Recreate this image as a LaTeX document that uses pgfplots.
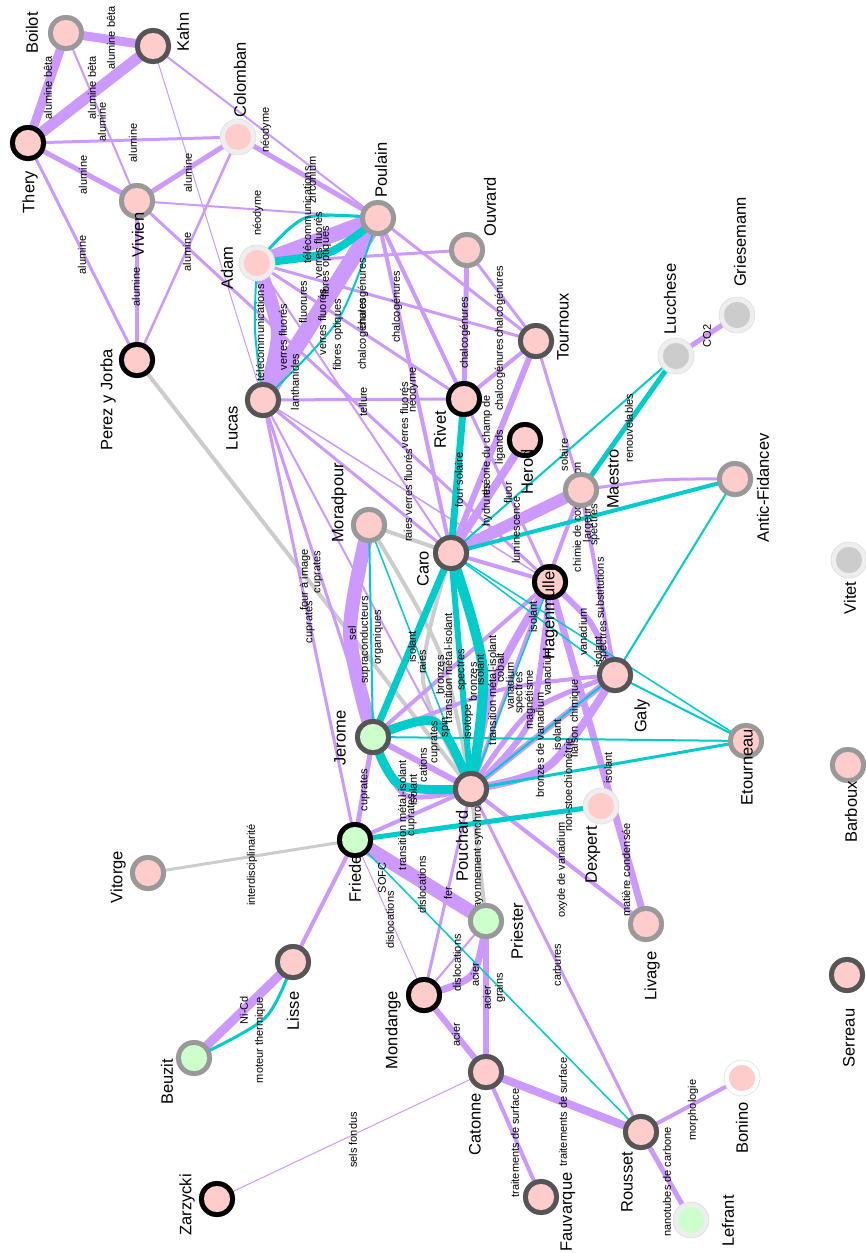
\documentclass[border=0pt]{standalone}
\usepackage{pgfplots}
\pgfplotsset{compat=1.18}
\usepackage{fontspec}
\setmainfont{Liberation Sans}
\definecolor{pu}{HTML}{CC99FF}
\definecolor{te}{HTML}{00CCCC}
\definecolor{gy}{HTML}{CCCCCC}
\definecolor{pk}{HTML}{FFCCCC}
\definecolor{gn}{HTML}{CCFFCC}
\definecolor{gf}{HTML}{CCCCCC}
\definecolor{rb}{HTML}{000000}
\definecolor{rd}{HTML}{555555}
\definecolor{rm}{HTML}{999999}
\definecolor{rl}{HTML}{EEEEEE}
\newcommand{\nfont}{\fontsize{16.5}{18}\selectfont}
\newcommand{\efont}{\fontsize{11}{12}\selectfont}
\newcommand{\E}[6]{\addplot[#1,line width=#2pt] coordinates {(#3,#4) (#5,#6)};}
\newcommand{\CE}[8]{\addplot[#1,line width=#2pt,smooth] coordinates {(#3,#4) (#5,#6) (#7,#8)};}
\newcommand{\EL}[3]{\node[rotate=90,font=\efont,inner sep=0pt] at (axis cs:#1,#2) {#3};}
\newcommand{\NN}[3]{\node[rotate=90,font=\nfont,inner sep=0pt] at (axis cs:#1,#2) {#3};}
\pgfplotsset{netaxis/.style={width=866pt,height=1253pt,scale only axis,xmin=0,xmax=866,ymin=0,ymax=1253,y dir=reverse,hide axis,clip=false,at={(0,0)},anchor=south west}}
\begin{document}
\begin{tikzpicture}
\begin{axis}[netaxis]
% ---------- gray edges
\E{gy}{4}{137}{360}{471}{789}
\E{gy}{4}{369}{525}{451}{553}
\CE{gy}{4}{369}{525}{440}{653}{471}{789}
\CE{gy}{4}{451}{553}{423}{680}{471}{789}
\E{gy}{3}{355}{840}{148}{873}
\E{gy}{4}{471}{789}{486}{921}
% ---------- purple edges
\E{pu}{9}{66}{33}{153}{46}
\E{pu}{9}{66}{33}{28}{143}
\E{pu}{11}{153}{46}{28}{143}
\E{pu}{2}{66}{33}{137}{201}
\E{pu}{1}{153}{46}{263}{400}
\E{pu}{2}{153}{46}{378}{218}
\E{pu}{3}{28}{143}{238}{137}
\E{pu}{5}{28}{143}{137}{201}
\E{pu}{3}{28}{143}{137}{360}
\E{pu}{5}{137}{201}{238}{137}
\E{pu}{4}{137}{201}{137}{360}
\E{pu}{2.5}{238}{137}{137}{360}
\E{pu}{5}{238}{137}{378}{218}
\E{pu}{2}{137}{201}{378}{218}
\E{pu}{3}{137}{201}{550}{582}
\E{pu}{15}{257}{263}{378}{218}
\CE{pu}{14}{257}{263}{278}{332}{263}{400}
\E{pu}{16}{263}{400}{378}{218}
\E{pu}{3}{257}{263}{467}{250}
\E{pu}{3}{257}{263}{536}{341}
\E{pu}{3}{257}{263}{464}{399}
\E{pu}{2}{257}{263}{451}{553}
\E{pu}{3}{263}{400}{464}{399}
\E{pu}{3}{263}{400}{355}{840}
\E{pu}{3}{263}{400}{373}{737}
\E{pu}{3}{263}{400}{451}{553}
\E{pu}{2}{263}{400}{471}{789}
\E{pu}{1.5}{263}{400}{550}{582}
\E{pu}{4}{378}{218}{464}{399}
\E{pu}{4}{378}{218}{451}{553}
\E{pu}{3}{378}{218}{536}{341}
\E{pu}{5}{467}{250}{464}{399}
\E{pu}{3}{467}{250}{536}{341}
\E{pu}{4}{464}{399}{536}{341}
\E{pu}{3}{464}{399}{451}{553}
\E{pu}{3}{464}{399}{550}{582}
\E{pu}{6}{536}{341}{451}{553}
\E{pu}{3}{536}{341}{581}{490}
\E{pu}{8}{525}{440}{451}{553}
\E{pu}{12}{581}{490}{451}{553}
\CE{pu}{3}{581}{490}{660}{480}{735}{479}
\E{pu}{4}{581}{490}{615}{675}
\E{pu}{4}{581}{490}{471}{789}
\E{pu}{5}{676}{356}{737}{315}
\E{pu}{7}{550}{582}{646}{924}
\CE{pu}{6}{550}{582}{590}{622}{615}{675}
\CE{pu}{8}{550}{582}{495}{680}{471}{789}
\CE{pu}{6}{550}{582}{530}{720}{471}{789}
\CE{pu}{8}{615}{675}{550}{765}{471}{789}
\E{pu}{6}{615}{675}{471}{789}
\CE{pu}{5}{615}{675}{530}{712}{471}{789}
\E{pu}{4}{373}{737}{550}{582}
\CE{pu}{4}{373}{737}{500}{690}{615}{675}
\E{pu}{3}{373}{737}{451}{553}
\CE{pu}{14}{369}{525}{350}{633}{373}{737}
\E{pu}{5}{373}{737}{355}{840}
\E{pu}{6}{373}{737}{471}{789}
\CE{pu}{5}{373}{737}{405}{795}{471}{789}
\E{pu}{4}{451}{553}{471}{789}
\E{pu}{4}{451}{553}{550}{582}
\E{pu}{4}{471}{789}{355}{840}
\E{pu}{3}{471}{789}{424}{995}
\E{pu}{4}{471}{789}{646}{924}
\E{pu}{3}{471}{789}{641}{1132}
\E{pu}{14}{355}{840}{486}{921}
\E{pu}{4}{355}{840}{293}{962}
\E{pu}{1}{355}{840}{424}{995}
\CE{pu}{7}{486}{921}{472}{975}{424}{995}
\E{pu}{2}{486}{921}{424}{995}
\E{pu}{6}{486}{921}{486}{1072}
\E{pu}{6}{424}{995}{486}{1072}
\E{pu}{8}{486}{1072}{641}{1132}
\E{pu}{4}{486}{1072}{541}{1197}
\E{pu}{1}{486}{1072}{217}{1199}
\E{pu}{4}{641}{1132}{742}{1078}
\E{pu}{5}{641}{1132}{691}{1220}
\E{pu}{9}{293}{962}{194}{1058}
% ---------- teal edges
\CE{te}{8}{257}{263}{330}{252}{378}{218}
\CE{te}{3}{257}{263}{305}{218}{378}{218}
\CE{te}{2}{257}{263}{255}{330}{263}{400}
\CE{te}{2}{263}{400}{338}{320}{378}{218}
\E{te}{7}{464}{399}{451}{553}
\E{te}{2}{451}{553}{676}{356}
\E{te}{5}{581}{490}{676}{356}
\E{te}{4}{451}{553}{735}{479}
\E{te}{2}{735}{479}{615}{675}
\E{te}{1.5}{451}{553}{615}{675}
\E{te}{1.5}{451}{553}{746}{741}
\E{te}{7}{451}{553}{373}{737}
\CE{te}{10}{451}{553}{483}{670}{471}{789}
\E{te}{6}{451}{553}{471}{789}
\CE{te}{9}{373}{737}{435}{722}{471}{789}
\CE{te}{9}{373}{737}{400}{785}{471}{789}
\E{te}{2}{373}{737}{746}{741}
\E{te}{3}{471}{789}{746}{741}
\E{te}{2}{369}{525}{373}{737}
\E{te}{1.5}{369}{525}{471}{789}
\E{te}{5}{355}{840}{601}{806}
\E{te}{1.5}{355}{840}{641}{1132}
\E{te}{2}{615}{675}{746}{741}
\E{te}{2}{471}{789}{615}{675}
\E{te}{1.5}{471}{789}{550}{582}
\CE{te}{3}{293}{962}{265}{1018}{194}{1058}
% ---------- nodes: outer rings
\addplot[only marks,mark=*,mark size=18pt,mark options={fill=rb,draw=rb,line width=0.1pt}] coordinates {(28,143) (137,360) (464,399) (525,440) (550,582) (355,840) (424,995) (217,1199)};
\addplot[only marks,mark=*,mark size=18pt,mark options={fill=rd,draw=rd,line width=0.1pt}] coordinates {(153,46) (536,341) (263,400) (451,553) (615,675) (373,737) (471,789) (293,962) (486,1072) (641,1132) (541,1197) (847,975)};
\addplot[only marks,mark=*,mark size=18pt,mark options={fill=rm,draw=rm,line width=0.1pt}] coordinates {(66,33) (137,201) (378,218) (467,250) (581,490) (735,479) (369,525) (746,741) (848,765) (148,873) (486,921) (646,924) (194,1058)};
\addplot[only marks,mark=*,mark size=18pt,mark options={fill=rl,draw=black!13,line width=0.6pt}] coordinates {(238,137) (257,263) (601,806) (676,356) (737,315) (849,560) (691,1220)};
\addplot[only marks,mark=*,mark size=18pt,mark options={fill=white,draw=black!13,line width=0.6pt}] coordinates {(742,1078)};
% ---------- nodes: inner fills
\addplot[only marks,mark=*,mark size=13pt,mark options={fill=pk,draw=pk,line width=0.1pt}] coordinates {(28,143) (137,360) (464,399) (525,440) (550,582) (424,995) (217,1199) (153,46) (536,341) (263,400) (451,553) (615,675) (471,789) (293,962) (486,1072) (641,1132) (541,1197) (847,975) (66,33) (137,201) (378,218) (467,250) (581,490) (735,479) (369,525) (746,741) (848,765) (148,873) (646,924) (238,137) (257,263) (601,806) (742,1078)};
\addplot[only marks,mark=*,mark size=13pt,mark options={fill=gn,draw=gn,line width=0.1pt}] coordinates {(373,737) (355,840) (486,921) (194,1058) (691,1220)};
\addplot[only marks,mark=*,mark size=13pt,mark options={fill=gf,draw=gf,line width=0.1pt}] coordinates {(676,356) (737,315) (849,560)};
% ---------- edge labels
\EL{111}{38}{alumine bêta}
\EL{48}{88}{alumine bêta}
\EL{92}{88}{alumine bêta}
\EL{102}{122}{alumine}
\EL{133}{143}{alumine}
\EL{83}{175}{alumine}
\EL{188}{173}{alumine}
\EL{82}{255}{alumine}
\EL{136}{287}{alumine}
\EL{187}{252}{alumine}
\EL{266}{130}{néodyme}
\EL{258}{213}{néodyme}
\EL{312}{180}{zirconium}
\EL{307}{215}{télécommunications}
\EL{318}{245}{verres fluorés}
\EL{326}{262}{fibres optiques}
\EL{303}{302}{fluorures}
\EL{322}{322}{verres fluorés}
\EL{338}{335}{fibres optiques}
\EL{363}{334}{chalcogénures}
\EL{363}{294}{chalcogénures}
\EL{397}{307}{chalcogénures}
\EL{260}{333}{télécommunications}
\EL{283}{337}{verres fluorés}
\EL{295}{382}{lanthanides}
\EL{363}{402}{tellure}
\EL{413}{390}{néodyme}
\EL{404}{415}{verres fluorés}
\EL{408}{482}{verres fluorés}
\EL{408}{530}{raies}
\EL{465}{333}{chalcogénures}
\EL{500}{302}{chalcogénures}
\EL{500}{375}{chalcogénures}
\EL{487}{445}{théorie du champ de}
\EL{500}{447}{ligands}
\EL{487}{505}{hydrures}
\EL{459}{480}{four solaire}
\EL{508}{493}{fluor}
\EL{516}{530}{luminescence}
\EL{564}{455}{solaire}
\EL{629}{428}{renouvelables}
\EL{707}{336}{CO2}
\EL{577}{517}{chimie de coordination}
\EL{588}{525}{largeur}
\EL{595}{525}{spectres}
\EL{600}{588}{substitutions}
\EL{583}{632}{vanadium}
\EL{598}{652}{isolant}
\EL{604}{642}{spectres}
\EL{533}{617}{isolant}
\EL{352}{633}{sel}
\EL{365}{640}{supraconducteurs}
\EL{378}{637}{organiques}
\EL{305}{580}{four à image}
\EL{318}{572}{cuprates}
\EL{310}{622}{cuprates}
\EL{412}{647}{isolant}
\EL{422}{662}{raies}
\EL{440}{675}{bronzes}
\EL{448}{668}{transition métal-isolant}
\EL{462}{670}{spectres}
\EL{473}{682}{bronzes}
\EL{480}{670}{isolant}
\EL{492}{690}{transition métal-isolant}
\EL{500}{668}{cobalt}
\EL{510}{686}{vanadium}
\EL{520}{693}{spectres}
\EL{530}{700}{magnétisme}
\EL{547}{672}{vanadium}
\EL{540}{745}{bronzes de vanadium}
\EL{557}{735}{isolant}
\EL{575}{718}{liaison chimique}
\EL{568}{785}{non-stoechiométrie}
\EL{608}{768}{isolant}
\EL{445}{727}{spin}
\EL{435}{742}{cuprates}
\EL{423}{765}{cations}
\EL{413}{790}{isolant}
\EL{412}{815}{cuprates}
\EL{402}{815}{transition métal-isolant}
\EL{365}{790}{cuprates}
\EL{468}{722}{isotope}
\EL{478}{850}{rayonnement synchrotron}
\EL{382}{878}{SOFC}
\EL{422}{885}{dislocations}
\EL{390}{920}{dislocations}
\EL{448}{893}{fer}
\EL{457}{963}{dislocations}
\EL{475}{975}{acier}
\EL{487}{998}{acier}
\EL{500}{988}{grains}
\EL{456}{1035}{acier}
\EL{557}{965}{carbures}
\EL{562}{870}{oxyde de vanadium}
\EL{353}{1140}{sels fondus}
\EL{515}{1143}{traitements de surface}
\EL{563}{1112}{traitements de surface}
\EL{693}{1110}{morphologie}
\EL{667}{1182}{nanotubes de carbone}
\EL{626}{870}{matière condensée}
\EL{252}{865}{interdisciplinarité}
\EL{244}{1010}{Ni-Cd}
\EL{260}{1040}{moteur thermique}
\NN{355}{877}{Friedel}
\end{axis}
% ---------- node names, in an overlay axis on top of the node marks
\begin{axis}[netaxis]
\NN{32}{33}{Boilot}
\NN{183}{32}{Kahn}
\NN{30}{192}{Thery}
\NN{240}{80}{Colomban}
\NN{138}{235}{Vivien}
\NN{227}{268}{Adam}
\NN{381}{170}{Poulain}
\NN{490}{207}{Ouvrard}
\NN{563}{327}{Tournoux}
\NN{670}{299}{Lucchese}
\NN{740}{242}{Griesemann}
\NN{108}{400}{Perez y Jorba}
\NN{232}{428}{Lucas}
\NN{440}{430}{Rivet}
\NN{527}{472}{Herod}
\NN{613}{479}{Maestro}
\NN{763}{488}{Antic-Fidancev}
\NN{339}{503}{Moradpour}
\NN{423}{569}{Caro}
\NN{550}{613}{Hagenmuller}
\NN{850}{598}{Vitet}
\NN{642}{716}{Galy}
\NN{340}{738}{Jerome}
\NN{747}{767}{Etourneau}
\NN{851}{812}{Barboux}
\NN{462}{846}{Pouchard}
\NN{593}{855}{Dexpert}
\NN{118}{877}{Vitorge}
\NN{517}{931}{Priester}
\NN{652}{976}{Livage}
\NN{293}{1011}{Lisse}
\NN{849}{1038}{Serreau}
\NN{393}{1030}{Mondange}
\NN{167}{1082}{Beuzit}
\NN{475}{1124}{Catonne}
\NN{742}{1128}{Bonino}
\NN{627}{1182}{Rousset}
\NN{568}{1212}{Fauvarque}
\NN{187}{1205}{Zarzycki}
\NN{728}{1221}{Lefrant}
\end{axis}
\pgfresetboundingbox
\path[use as bounding box] (0,0) rectangle (866pt,1253pt);
\end{tikzpicture}
\end{document}
